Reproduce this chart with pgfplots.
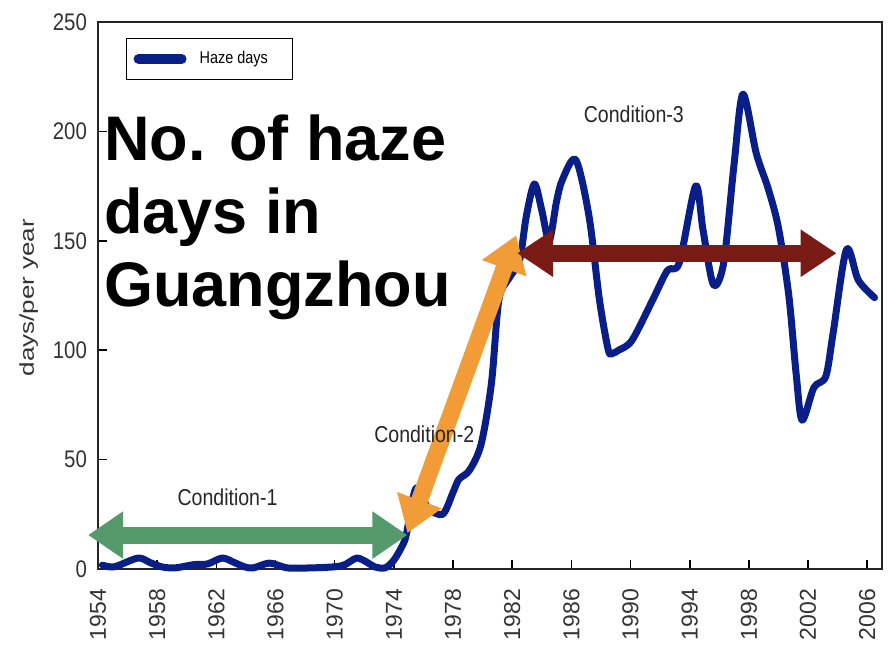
\documentclass[border=0pt]{standalone}
\usepackage{fontspec}
\setmainfont{Liberation Sans}
\newfontfamily\narrowfont[FakeStretch=0.85]{Liberation Sans}
\newfontfamily\widefont[FakeStretch=1.3]{Liberation Sans}
\usepackage{pgfplots}
\pgfplotsset{compat=1.18}
\usetikzlibrary{arrows.meta}
\definecolor{navy}{RGB}{10,30,135}
\definecolor{cgreen}{RGB}{85,154,106}
\definecolor{corange}{RGB}{242,156,56}
\definecolor{cred}{RGB}{122,26,20}
\pgfplotstableread{
x y
1954.3 1.8
1955.1 1
1956.7 5
1957.5 3
1958.3 1
1959.2 0.5
1960.5 2
1961.4 2.3
1962.4 5
1963.2 3
1963.9 1
1964.5 0.5
1965.6 2.7
1966.8 0.5
1968.4 0.5
1970.0 1
1970.7 2
1971.5 5
1972.2 3
1972.7 1
1973.4 0.5
1974.0 4
1974.6 11
1974.85 16
1975.5 37
1976.3 28
1977.3 25
1978.0 35
1978.4 41
1979.1 45
1979.9 57
1980.6 85
1981.1 123
1981.8 133
1982.5 141
1982.95 161
1983.5 176
1984.0 164
1984.5 150
1985.0 168
1985.4 178
1986.3 187
1987.2 161
1987.9 123
1988.5 100
1988.8 98.6
1989.2 100
1990.1 104.5
1991.5 123
1992.5 136.5
1993.3 140
1994.4 175
1994.9 155
1995.6 130
1996.3 140
1997.0 185
1997.6 217
1998.5 190
1999.3 174
2000.0 156
2000.7 125
2001.2 89
2001.6 68
2002.4 83
2003.2 88
2003.7 108
2004.6 146
2005.4 132
2006.5 124
}\hazedata
\begin{document}
\begin{tikzpicture}
\begin{axis}[
  scale only axis,
  width=392pt, height=273.5pt,
  xmin=1954, xmax=2007,
  ymin=0, ymax=250,
  clip=false,
  xtick={1954,1958,...,2006},
  ytick={0,50,...,250},
  /pgf/number format/1000 sep={},
  /pgf/number format/assume math mode=true,
  tick align=inside,
  xtick pos=bottom, ytick pos=left,
  major tick length=4.5pt,
  axis line style={black!85, line width=0.8pt},
  tick style={black, line width=0.8pt},
  yticklabel style={font=\narrowfont\fontsize{12}{14}\selectfont, xshift=-2pt, text=black!80},
  xticklabel style={font=\fontsize{11.5}{13}\selectfont, rotate=90, anchor=east, yshift=0pt, xshift=-6.5pt, text=black!80},
  legend style={at={(0,1)}, anchor=north west, xshift=14pt, yshift=-8pt,
    draw=black, line width=0.6pt, inner xsep=3.5pt, inner ysep=6pt,
    font=\narrowfont\fontsize{8.5}{10}\selectfont,
    nodes={inner sep=0pt, text height=6.5pt, text depth=2pt},
    column sep=6.5pt},
  legend image code/.code={\draw[navy, line width=5pt, line cap=round] (1.5pt,0pt) -- (23pt,0pt);},
]
\addplot[navy, line width=3.5pt, smooth, tension=0.5, line join=round, line cap=round] table[x=x,y=y] {\hazedata};
\addlegendentry{Haze days\hspace*{9pt}}

\draw[cgreen, line width=8.5pt, {Triangle[length=17.5pt,width=22.5pt]}-{Triangle[length=17.5pt,width=22.5pt]}] (axis cs:1953.33,15.5) -- (axis cs:1974.92,15.5);
\draw[corange, line width=8.5pt, {Triangle[length=17.5pt,width=22.5pt]}-{Triangle[length=17.5pt,width=22.5pt]}] (axis cs:1974.92,16.4) -- (axis cs:1982.27,152.5);
\draw[cred, line width=8.5pt, {Triangle[length=18pt,width=22.5pt]}-{Triangle[length=18pt,width=22.5pt]}] (axis cs:1982.34,144.3) -- (axis cs:2003.93,144.3);

\node[anchor=base west, inner sep=0pt, font=\narrowfont\fontsize{11.5}{13}\selectfont, text=black!85] at (axis cs:1959.35,29.2) {Condition-1};
\node[anchor=base west, inner sep=0pt, font=\narrowfont\fontsize{11.5}{13}\selectfont, text=black!85] at (axis cs:1972.65,58) {Condition-2};
\node[anchor=base west, inner sep=0pt, font=\narrowfont\fontsize{11.5}{13}\selectfont, text=black!85] at (axis cs:1986.82,204.1) {Condition-3};

\node[anchor=base west, inner sep=0pt, font=\bfseries\fontsize{31.5}{36}\selectfont] at (axis cs:1954.4,186.8) {No. of haze};
\node[anchor=base west, inner sep=0pt, font=\bfseries\fontsize{31.5}{36}\selectfont] at (axis cs:1954.4,153.4) {days in};
\node[anchor=base west, inner sep=0pt, font=\bfseries\fontsize{31.5}{36}\selectfont] at (axis cs:1954.4,120.1) {Guangzhou};

\node[rotate=90, anchor=center, inner sep=0pt, font=\widefont\fontsize{10}{12}\selectfont, text=black!80] at (axis cs:1949.31,124) {days/per year};
\end{axis}
\pgfresetboundingbox
\path (current axis.south west) ++(-49pt,-38.5pt) rectangle ++(445pt,323pt);
\end{tikzpicture}
\end{document}
